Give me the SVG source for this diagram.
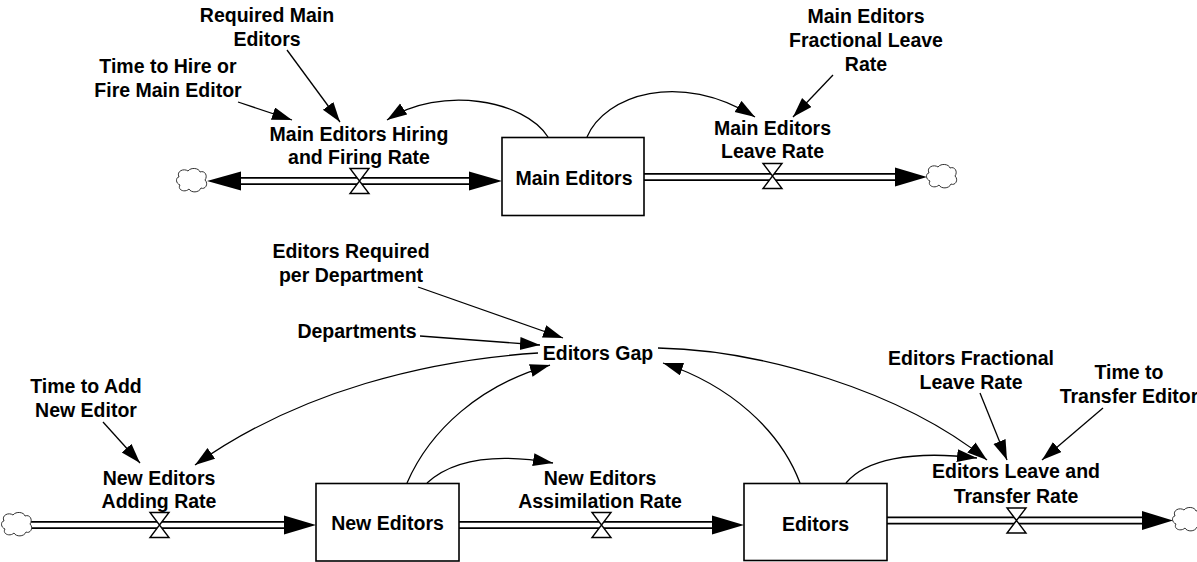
<svg xmlns="http://www.w3.org/2000/svg" width="1197" height="562" viewBox="0 0 1197 562">
  <style>
    text { font-family: "Liberation Sans", Arial, sans-serif; font-weight: bold; font-size: 19.5px; fill: #000; text-anchor: middle; }
    .box { fill: #fff; stroke: #000; stroke-width: 1.6; }
    .pipe-out { stroke: #000; stroke-width: 8; fill: none; }
    .pipe-in { stroke: #fff; stroke-width: 4.6; fill: none; }
    .head { fill: #000; }
    .valve { fill: #fff; stroke: #000; stroke-width: 1.4; stroke-linejoin: miter; }
    .cloud { fill: #fff; stroke: #333; stroke-width: 1; }
    .link { fill: none; stroke: #000; stroke-width: 1.3; marker-end: url(#arrow); }
  </style>
  <defs>
    <marker id="arrow" markerUnits="userSpaceOnUse" markerWidth="22" markerHeight="16" refX="20" refY="6.5" orient="auto">
      <path d="M0,0 L20,6.5 L0,13 Z" fill="#000"/>
    </marker>
    <path id="cloud" d="M-13,-4 C-16,-10 -8,-13 -4,-10 C-1,-14 7,-13 8,-9 C13,-11 16,-5 13,-1 C17,3 13,9 9,7 C7,12 -1,12 -3,8 C-7,12 -15,9 -12,4 C-17,2 -16,-4 -13,-4 Z"/>
    <polygon id="valve" points="-9.5,-12.5 9.5,-12.5 -9.5,12.5 9.5,12.5"/>
  </defs>

  <!-- flow pipes -->
  <g id="flows">
    <!-- Main Editors hiring / firing (bi-flow) -->
    <line class="pipe-out" x1="225" y1="181" x2="485" y2="181"/>
    <line class="pipe-in" x1="225" y1="181" x2="485" y2="181"/>
    <polygon class="head" points="207,181 241,171.5 241,190.5"/>
    <polygon class="head" points="502,181 469,171.5 469,190.5"/>
    <!-- Main Editors leave -->
    <line class="pipe-out" x1="644" y1="177" x2="905" y2="177"/>
    <line class="pipe-in" x1="643" y1="177" x2="905" y2="177"/>
    <polygon class="head" points="927,177 895,167.5 895,186.5"/>
    <!-- New Editors adding -->
    <line class="pipe-out" x1="31" y1="525" x2="295" y2="525"/>
    <line class="pipe-in" x1="31" y1="525" x2="295" y2="525"/>
    <polygon class="head" points="316,525 284,515.5 284,534.5"/>
    <!-- assimilation -->
    <line class="pipe-out" x1="459" y1="525" x2="722" y2="525"/>
    <line class="pipe-in" x1="458" y1="525" x2="722" y2="525"/>
    <polygon class="head" points="744,525 712,515.5 712,534.5"/>
    <!-- Editors leave and transfer -->
    <line class="pipe-out" x1="887" y1="520.5" x2="1152" y2="520.5"/>
    <line class="pipe-in" x1="886" y1="520.5" x2="1152" y2="520.5"/>
    <polygon class="head" points="1173,520.5 1142,511 1142,530"/>
  </g>

  <!-- sources and sinks -->
  <g id="clouds">
    <use href="#cloud" class="cloud" transform="translate(192,181)"/>
    <use href="#cloud" class="cloud" transform="translate(942,177)"/>
    <use href="#cloud" class="cloud" transform="translate(17,525)"/>
    <use href="#cloud" class="cloud" transform="translate(1188,520)"/>
  </g>

  <!-- stocks -->
  <g id="main-editors">
    <rect class="box" x="502" y="137.5" width="142" height="78"/>
    <text x="574" y="185">Main Editors</text>
  </g>
  <g id="new-editors">
    <rect class="box" x="316" y="483.5" width="143" height="77.5"/>
    <text x="387.5" y="530">New Editors</text>
  </g>
  <g id="editors">
    <rect class="box" x="744" y="483.5" width="143" height="77"/>
    <text x="815.5" y="531">Editors</text>
  </g>

  <!-- rates -->
  <g id="main-editors-hiring-and-firing-rate">
    <use href="#valve" class="valve" transform="translate(359.5,181)"/>
    <text x="359" y="141">Main Editors Hiring</text>
    <text x="359" y="164">and Firing Rate</text>
  </g>
  <g id="main-editors-leave-rate">
    <use href="#valve" class="valve" transform="translate(772.5,176)"/>
    <text x="772.5" y="134.5">Main Editors</text>
    <text x="772.5" y="158">Leave Rate</text>
  </g>
  <g id="new-editors-adding-rate">
    <use href="#valve" class="valve" transform="translate(159.5,525)"/>
    <text x="159" y="485">New Editors</text>
    <text x="159" y="508">Adding Rate</text>
  </g>
  <g id="new-editors-assimilation-rate">
    <use href="#valve" class="valve" transform="translate(601.5,525)"/>
    <text x="600" y="485">New Editors</text>
    <text x="600" y="508">Assimilation Rate</text>
  </g>
  <g id="editors-leave-and-transfer-rate">
    <use href="#valve" class="valve" transform="translate(1016.5,520.5)"/>
    <text x="1016" y="478">Editors Leave and</text>
    <text x="1016" y="503">Transfer Rate</text>
  </g>

  <!-- auxiliaries -->
  <g id="time-to-hire-or-fire-main-editor">
    <text x="168" y="72.5">Time to Hire or</text>
    <text x="168" y="96.5">Fire Main Editor</text>
  </g>
  <g id="required-main-editors">
    <text x="267" y="22">Required Main</text>
    <text x="267" y="45.5">Editors</text>
  </g>
  <g id="main-editors-fractional-leave-rate">
    <text x="866" y="23">Main Editors</text>
    <text x="866" y="47">Fractional Leave</text>
    <text x="866" y="71">Rate</text>
  </g>
  <g id="editors-required-per-department">
    <text x="351" y="258">Editors Required</text>
    <text x="351" y="282">per Department</text>
  </g>
  <g id="departments">
    <text x="357" y="338">Departments</text>
  </g>
  <g id="editors-gap">
    <text x="598" y="360">Editors Gap</text>
  </g>
  <g id="time-to-add-new-editor">
    <text x="86" y="393">Time to Add</text>
    <text x="86" y="417">New Editor</text>
  </g>
  <g id="editors-fractional-leave-rate">
    <text x="971" y="365">Editors Fractional</text>
    <text x="971" y="389">Leave Rate</text>
  </g>
  <g id="time-to-transfer-editor">
    <text x="1129" y="379">Time to</text>
    <text x="1129" y="403">Transfer Editor</text>
  </g>

  <!-- information links -->
  <g id="connectors">
    <path class="link" d="M238,102 L292,120"/>
    <path class="link" d="M287,50 L340,122"/>
    <path class="link" d="M548,137 C525,100 440,85 387,120"/>
    <path class="link" d="M587,137 C605,95 680,70 755,117"/>
    <path class="link" d="M833,75 L793,117"/>
    <path class="link" d="M418,287 L563,338"/>
    <path class="link" d="M420,336 L540,345"/>
    <path class="link" d="M538,353 C430,360 300,390 195,465"/>
    <path class="link" d="M407,483 C430,430 480,385 550,365"/>
    <path class="link" d="M427,483 C450,462 490,452 553,463"/>
    <path class="link" d="M800,483 C780,430 730,385 663,363"/>
    <path class="link" d="M846,483 C865,460 910,450 977,458"/>
    <path class="link" d="M658,348 C760,350 900,390 987,460"/>
    <path class="link" d="M103,422 L140,463"/>
    <path class="link" d="M980,393 L1007,460"/>
    <path class="link" d="M1103,408 L1042,460"/>
  </g>
</svg>
